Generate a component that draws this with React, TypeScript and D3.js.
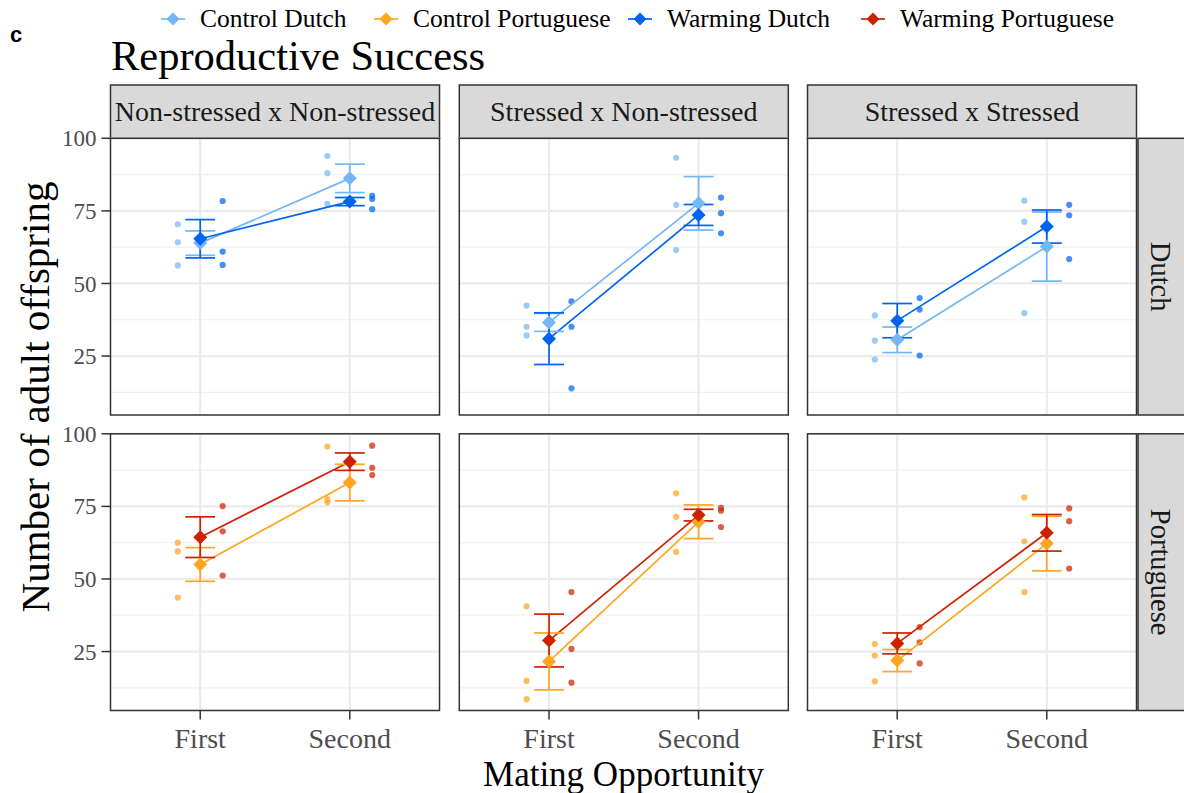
import React from 'react';
import * as d3 from 'd3';

const opportunities = ['First', 'Second'];
const treatments = ['Non-stressed x Non-stressed', 'Stressed x Non-stressed', 'Stressed x Stressed'];
const populations = ['Dutch', 'Portuguese'];
const groups = ['Control Dutch', 'Control Portuguese', 'Warming Dutch', 'Warming Portuguese'];
const groupColors = ['#74B7F4', '#FFA520', '#0064F0', '#CC2200'];
const yTicks = [25, 50, 75, 100];
const yMinor = [12.5, 37.5, 62.5, 87.5];

// [treatment][opportunity] -> replicate values
const dutchControlPoints = [
  [[70.4, 64.2, 56.2], [93.9, 88.0, 77.4]],
  [[42.4, 35.1, 32.1], [93.3, 77.1, 61.5]],
  [[39.0, 30.3, 23.8], [78.5, 71.3, 39.8]],
];
const dutchControlMean = [[63.9, 86.2], [36.6, 77.6], [30.6, 62.7]];
const dutchControlSE = [[4.2, 4.9], [3.1, 9.2], [4.4, 11.9]];

const dutchWarmingPoints = [
  [[78.4, 61.0, 56.4], [80.2, 79.1, 75.6]],
  [[43.8, 35.1, 13.9], [79.6, 74.2, 67.3]],
  [[45.0, 41.0, 25.2], [77.1, 73.5, 58.4]],
];
const dutchWarmingMean = [[65.4, 78.2], [31.0, 73.6], [37.2, 69.6]];
const dutchWarmingSE = [[6.6, 1.4], [8.9, 3.6], [5.9, 5.7]];

const portControlPoints = [
  [[62.5, 59.5, 43.6], [95.6, 77.5, 76.4]],
  [[40.6, 14.9, 8.6], [79.5, 71.4, 59.3]],
  [[27.6, 23.6, 14.7], [78.1, 63.0, 45.5]],
];
const portControlMean = [[55.0, 83.2], [21.6, 69.7], [21.9, 62.2]];
const portControlSE = [[5.8, 6.3], [9.8, 5.8], [3.8, 9.4]];

const portWarmingPoints = [
  [[75.1, 66.4, 51.2], [95.9, 88.3, 85.8]],
  [[45.5, 25.9, 14.3], [74.5, 73.5, 67.9]],
  [[33.4, 28.2, 20.9], [74.3, 69.9, 53.6]],
];
const portWarmingMean = [[64.4, 90.4], [28.8, 72.0], [27.8, 65.9]];
const portWarmingSE = [[7.0, 3.0], [9.1, 2.0], [3.6, 6.3]];

// layout
const W = 1184, H = 793;
const panelLefts = [110.5, 459.3, 807.5];
const panelW = 329;
const rowTops = [138.3, 433.8];
const panelH = 276.7;
const stripTop = 85;
const rightStripW = 48;
const serif = '"Liberation Serif", "Times New Roman", serif';

const seriesByRow = [
  [
    { g: 0, pts: dutchControlPoints, mean: dutchControlMean, se: dutchControlSE, nudge: -0.15 },
    { g: 2, pts: dutchWarmingPoints, mean: dutchWarmingMean, se: dutchWarmingSE, nudge: 0.15 },
  ],
  [
    { g: 1, pts: portControlPoints, mean: portControlMean, se: portControlSE, nudge: -0.15 },
    { g: 3, pts: portWarmingPoints, mean: portWarmingMean, se: portWarmingSE, nudge: 0.15 },
  ],
];

const diamond = (cx: number, cy: number, r: number) =>
  `M${cx},${cy - r}L${cx + r},${cy}L${cx},${cy + r}L${cx - r},${cy}Z`;

function Panel({ row, col }: { row: number; col: number }) {
  const x0 = panelLefts[col];
  const y0 = rowTops[row];
  const x = d3.scalePoint<string>().domain(opportunities).range([x0, x0 + panelW]).padding(0.6);
  const step = x.step();
  const y = d3.scaleLinear().domain([4.7, 100]).range([y0 + panelH, y0]);
  const line = d3.line<[number, number]>().x((d) => d[0]).y((d) => d[1]);
  const series = seriesByRow[row];
  return (
    <g>
      <rect x={x0} y={y0} width={panelW} height={panelH} fill="#fff" />
      {yMinor.map((v) => (
        <line key={'m' + v} x1={x0} x2={x0 + panelW} y1={y(v)} y2={y(v)} stroke="#F0F0F0" strokeWidth={1.2} />
      ))}
      {yTicks.map((v) => (
        <line key={'M' + v} x1={x0} x2={x0 + panelW} y1={y(v)} y2={y(v)} stroke="#EBEBEB" strokeWidth={2.2} />
      ))}
      {opportunities.map((o) => (
        <line key={o} x1={x(o)} x2={x(o)} y1={y0} y2={y0 + panelH} stroke="#EBEBEB" strokeWidth={2.2} />
      ))}
      {series.map((s) =>
        opportunities.map((o, oi) =>
          s.pts[col][oi].map((v, k) => (
            <circle key={`${s.g}-${o}-${k}`} cx={(x(o) as number) + s.nudge * step} cy={y(v)} r={3.1}
              fill={groupColors[s.g]} fillOpacity={0.72} />
          ))
        )
      )}
      {series.map((s) => (
        <path key={'l' + s.g}
          d={line(opportunities.map((o, oi) => [x(o) as number, y(s.mean[col][oi])]) as [number, number][]) || ''}
          stroke={groupColors[s.g]} strokeWidth={1.7} fill="none" />
      ))}
      {series.map((s) =>
        opportunities.map((o, oi) => {
          const cx = x(o) as number;
          const m = s.mean[col][oi];
          const e = s.se[col][oi];
          const hw = step * 0.1;
          return (
            <g key={`eb${s.g}-${o}`} stroke={groupColors[s.g]} strokeWidth={1.7}>
              <line x1={cx} x2={cx} y1={y(m - e)} y2={y(m + e)} />
              <line x1={cx - hw} x2={cx + hw} y1={y(m + e)} y2={y(m + e)} />
              <line x1={cx - hw} x2={cx + hw} y1={y(m - e)} y2={y(m - e)} />
            </g>
          );
        })
      )}
      {series.map((s) =>
        opportunities.map((o, oi) => (
          <path key={`d${s.g}-${o}`} d={diamond(x(o) as number, y(s.mean[col][oi]), 7)} fill={groupColors[s.g]} />
        ))
      )}
      <rect x={x0} y={y0} width={panelW} height={panelH} fill="none" stroke="#333" strokeWidth={1.5} />
      {col === 0 &&
        yTicks.map((v) => (
          <g key={'t' + v}>
            <line x1={x0 - 9} x2={x0} y1={y(v)} y2={y(v)} stroke="#333" strokeWidth={1.5} />
            <text x={x0 - 14} y={y(v)} dy="0.35em" textAnchor="end" fontFamily={serif} fontSize={23} fill="#4D4D4D">
              {v}
            </text>
          </g>
        ))}
      {row === 1 &&
        opportunities.map((o) => (
          <g key={'xt' + o}>
            <line x1={x(o)} x2={x(o)} y1={y0 + panelH} y2={y0 + panelH + 9} stroke="#333" strokeWidth={1.5} />
            <text x={x(o)} y={y0 + panelH + 37} textAnchor="middle" fontFamily={serif} fontSize={28} fill="#4D4D4D">
              {o}
            </text>
          </g>
        ))}
    </g>
  );
}

const legendGlyphX = [173, 386, 640, 873];

export default function App() {
  return (
    <svg width={W} height={H} style={{ position: 'absolute', left: 0, top: 0, background: '#fff' }}>
      <rect width={W} height={H} fill="#fff" />
      <text x={10} y={42} fontFamily='"Liberation Sans", Arial, sans-serif' fontWeight="bold" fontSize={22} fill="#000">c</text>
      {groups.map((g, i) => (
        <g key={g}>
          <line x1={legendGlyphX[i] - 12} x2={legendGlyphX[i] + 12} y1={19} y2={19} stroke={groupColors[i]} strokeWidth={1.7} />
          <path d={diamond(legendGlyphX[i], 19, 6.5)} fill={groupColors[i]} />
          <text x={legendGlyphX[i] + 27} y={18.5} dy="0.35em" fontFamily={serif} fontSize={25.5} fill="#000">{g}</text>
        </g>
      ))}
      <text x={111} y={70} fontFamily={serif} fontSize={42.5} fill="#000">Reproductive Success</text>
      {treatments.map((t, i) => (
        <g key={t}>
          <rect x={panelLefts[i]} y={stripTop} width={panelW} height={rowTops[0] - stripTop} fill="#D9D9D9" stroke="#333" strokeWidth={1.5} />
          <text x={panelLefts[i] + panelW / 2} y={(stripTop + rowTops[0]) / 2} dy="0.35em" textAnchor="middle"
            fontFamily={serif} fontSize={28} fill="#1A1A1A">{t}</text>
        </g>
      ))}
      {populations.map((p, r) => {
        const sx = panelLefts[2] + panelW + 1.5;
        const cy = rowTops[r] + panelH / 2;
        return (
          <g key={p}>
            <rect x={sx} y={rowTops[r]} width={rightStripW} height={panelH} fill="#D9D9D9" stroke="#333" strokeWidth={1.5} />
            <text transform={`translate(${sx + 23},${cy}) rotate(90)`} dy="0.35em" textAnchor="middle"
              fontFamily={serif} fontSize={28.5} fill="#1A1A1A">{p}</text>
          </g>
        );
      })}
      {populations.map((p, r) => treatments.map((t, c) => <Panel key={p + t} row={r} col={c} />))}
      <text transform={`translate(35,397) rotate(-90)`} dy="0.35em" textAnchor="middle"
        fontFamily={serif} fontSize={41} fill="#000">Number of adult offspring</text>
      <text x={(panelLefts[0] + panelLefts[2] + panelW) / 2} y={786} textAnchor="middle" fontFamily={serif} fontSize={35} fill="#000">
        Mating Opportunity
      </text>
    </svg>
  );
}
